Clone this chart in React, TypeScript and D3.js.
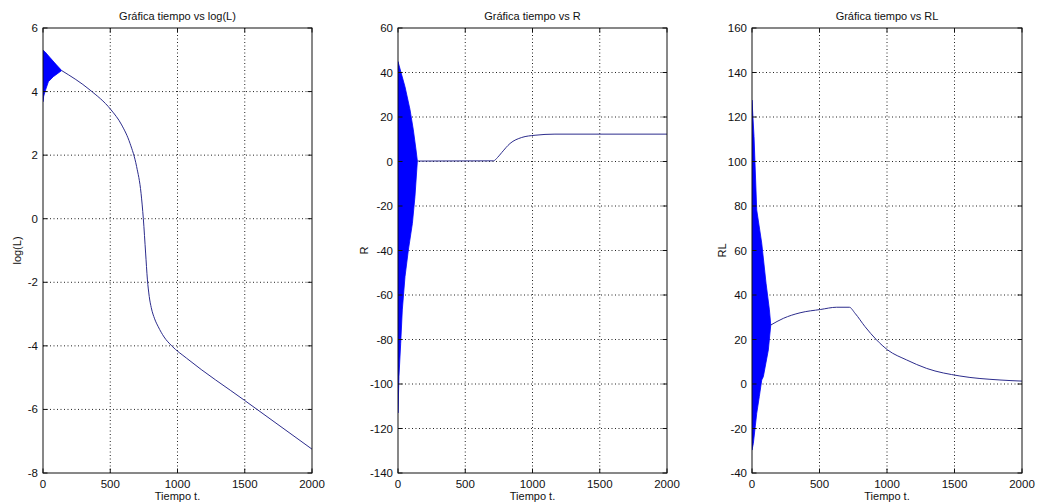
import React from "react";
import * as d3 from "d3";

// ---------- data ----------
const xTicks = [0, 500, 1000, 1500, 2000];

// Panel 1: log(L)
const logLTicks = [-8, -6, -4, -2, 0, 2, 4, 6];
const logLUpperT = [0, 15, 50, 100, 139];
const logLUpperV = [5.3, 5.25, 5.08, 4.84, 4.66];
const logLLowerT = [0, 5, 15, 40, 77, 139];
const logLLowerV = [3.68, 3.85, 4.0, 4.31, 4.47, 4.66];
const logLLineT = [139, 349, 503, 585, 647, 696, 729, 746, 763, 776, 790, 805, 830, 857, 900, 957, 1068, 1500, 2000];
const logLLineV = [4.66, 4.05, 3.44, 2.95, 2.37, 1.64, 0.8, 0, -1.08, -1.9, -2.45, -2.8, -3.15, -3.4, -3.72, -4.0, -4.39, -5.72, -7.25];

// Panel 2: R
const rTicks = [-140, -120, -100, -80, -60, -40, -20, 0, 20, 40, 60];
const rUpperT = [0, 52, 89, 114, 134, 144];
const rUpperV = [44.9, 33.6, 23.4, 14.2, 5.2, 0.2];
const rLowerT = [0, 7, 20, 32, 52, 77, 107, 126, 144];
const rLowerV = [-113, -96.7, -81.7, -66.7, -51.8, -39.8, -27.8, -15.8, 0.2];
const rLineT = [144, 709, 740, 771, 833, 920, 1019, 1167, 2000];
const rLineV = [0.2, 0.3, 1.8, 4.0, 8.1, 10.8, 11.8, 12.3, 12.3];

// Panel 3: RL
const rlTicks = [-40, -20, 0, 20, 40, 60, 80, 100, 120, 140, 160];
const rlUpperT = [0, 15, 35, 72, 104, 129, 139];
const rlUpperV = [127.6, 111.2, 78.2, 63.3, 45.3, 33.3, 26.5];
const rlLowerT = [0, 10, 35, 54, 72, 84, 121, 139];
const rlLowerV = [-29.7, -26.7, -13.2, -5.7, 1.8, 3.3, 15.3, 26.5];
const rlLineT = [139, 232, 356, 509, 627, 721, 763, 837, 923, 1005, 1146, 1294, 1540, 1837, 2000];
const rlLineV = [26.5, 29.5, 32.0, 33.5, 34.5, 34.5, 31.8, 25.8, 19.8, 15.3, 10.8, 7.0, 3.6, 1.8, 1.3];

const titles = ["Gráfica tiempo vs log(L)", "Gráfica tiempo vs R", "Gráfica tiempo vs RL"];
const yLabels = ["log(L)", "R", "RL"];
const xLabel = "Tiempo t.";

// ---------- layout ----------
const W = 1041;
const H = 504;
const TOP = 28;
const BOTTOM = 473;
const FONT = "'Liberation Sans', Arial, Helvetica, sans-serif";

const zip = (t: number[], v: number[]) => t.map((x, i) => [x, v[i]] as [number, number]);

const panels = [
  {
    left: 43, right: 312, yTicks: logLTicks, title: titles[0], yLabel: yLabels[0], yLabelX: 21,
    upper: zip(logLUpperT, logLUpperV), lower: zip(logLLowerT, logLLowerV), line: zip(logLLineT, logLLineV),
  },
  {
    left: 398, right: 667, yTicks: rTicks, title: titles[1], yLabel: yLabels[1], yLabelX: 368,
    upper: zip(rUpperT, rUpperV), lower: zip(rLowerT, rLowerV), line: zip(rLineT, rLineV),
  },
  {
    left: 752, right: 1022, yTicks: rlTicks, title: titles[2], yLabel: yLabels[2], yLabelX: 726,
    upper: zip(rlUpperT, rlUpperV), lower: zip(rlLowerT, rlLowerV), line: zip(rlLineT, rlLineV),
  },
];

function Panel({ p, idx }: { p: any; idx: number }) {
  const x = d3.scaleLinear().domain([0, 2000]).range([p.left, p.right]);
  const yDom = d3.extent(p.yTicks as number[]) as [number, number];
  const y = d3.scaleLinear().domain(yDom).range([BOTTOM, TOP]);
  const clipId = `clip${idx}`;

  const lineGen = d3
    .line<[number, number]>()
    .x((d) => x(d[0]))
    .y((d) => y(d[1]))
    .curve(d3.curveMonotoneX);

  const lowerRev = [...p.lower].reverse();
  const areaPts: [number, number][] = [...p.upper, ...lowerRev];
  const areaPath = d3
    .line<[number, number]>()
    .x((d) => x(d[0]))
    .y((d) => y(d[1]))(areaPts) + "Z";

  const tickLen = 4.5;
  const gridColor = "#222";
  const cx = (p.left + p.right) / 2;
  const cy = (TOP + BOTTOM) / 2;

  return (
    <g>
      <defs>
        <clipPath id={clipId}>
          <rect x={p.left} y={TOP} width={p.right - p.left} height={BOTTOM - TOP} />
        </clipPath>
      </defs>
      <rect x={p.left} y={TOP} width={p.right - p.left} height={BOTTOM - TOP} fill="#fff" />
      {/* grid */}
      {xTicks.slice(1, -1).map((t) => (
        <line key={"gx" + t} x1={x(t)} x2={x(t)} y1={TOP} y2={BOTTOM} stroke={gridColor} strokeWidth={1} strokeDasharray="1,2.5" />
      ))}
      {(p.yTicks as number[]).slice(1, -1).map((t) => (
        <line key={"gy" + t} x1={p.left} x2={p.right} y1={y(t)} y2={y(t)} stroke={gridColor} strokeWidth={1} strokeDasharray="1,2.5" />
      ))}
      {/* data */}
      <g clipPath={`url(#${clipId})`}>
        <path d={areaPath} fill="#0000ff" stroke="#0000ff" strokeWidth={0.8} />
        <path d={lineGen(p.line) || ""} fill="none" stroke="#2c2c8c" strokeWidth={1} />
      </g>
      {/* box */}
      <rect x={p.left} y={TOP} width={p.right - p.left} height={BOTTOM - TOP} fill="none" stroke="#111" strokeWidth={1} />
      {/* ticks */}
      {xTicks.map((t) => (
        <g key={"tx" + t}>
          <line x1={x(t)} x2={x(t)} y1={BOTTOM} y2={BOTTOM - tickLen} stroke="#111" />
          <line x1={x(t)} x2={x(t)} y1={TOP} y2={TOP + tickLen} stroke="#111" />
          <text x={x(t)} y={488} textAnchor="middle" fontSize={11.5} fontFamily={FONT} fill="#111">
            {t}
          </text>
        </g>
      ))}
      {(p.yTicks as number[]).map((t) => (
        <g key={"ty" + t}>
          <line x1={p.left} x2={p.left + tickLen} y1={y(t)} y2={y(t)} stroke="#111" />
          <line x1={p.right} x2={p.right - tickLen} y1={y(t)} y2={y(t)} stroke="#111" />
          <text x={p.left - 5} y={y(t) + 4} textAnchor="end" fontSize={11.5} fontFamily={FONT} fill="#111">
            {t}
          </text>
        </g>
      ))}
      {/* labels */}
      <text x={cx} y={20} textAnchor="middle" fontSize={11} fontFamily={FONT} fill="#111">
        {p.title}
      </text>
      <text x={cx} y={500} textAnchor="middle" fontSize={11} fontFamily={FONT} fill="#111">
        {xLabel}
      </text>
      <text
        transform={`translate(${p.yLabelX},${cy}) rotate(-90)`}
        textAnchor="middle"
        fontSize={11}
        fontFamily={FONT}
        fill="#111"
      >
        {p.yLabel}
      </text>
    </g>
  );
}

export default function App() {
  return (
    <svg
      width={W}
      height={H}
      style={{ position: "absolute", left: 0, top: 0, background: "#fff" }}
      xmlns="http://www.w3.org/2000/svg"
    >
      <rect x={0} y={0} width={W} height={H} fill="#fff" />
      {panels.map((p, i) => (
        <Panel key={i} p={p} idx={i} />
      ))}
    </svg>
  );
}
